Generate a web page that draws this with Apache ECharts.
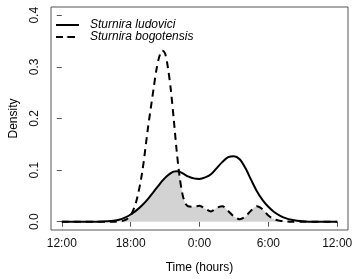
<!DOCTYPE html>
<html>
<head>
<meta charset="utf-8">
<script src="https://cdn.jsdelivr.net/npm/echarts@6/dist/echarts.min.js"></script>
<style>
  html, body { margin: 0; padding: 0; background: #fff; }
  #main { width: 358px; height: 279px; }
</style>
</head>
<body>
<div id="main"></div>
<script>
// hours after 12:00 (0 = 12:00, 12 = 0:00, 24 = 12:00 next day)
const hours = [0, 1, 2, 3, 4, 4.5, 5, 5.5, 6, 6.5, 7, 7.5, 8, 8.25, 8.5, 8.75, 9, 9.25, 9.5, 9.75,
  10, 10.25, 10.5, 10.75, 11, 11.5, 12, 12.5, 13, 13.5, 14, 14.5, 15, 15.5, 16, 16.5, 17, 17.5,
  18, 18.5, 19, 19.5, 20, 21, 22, 23, 24];

const ludovici = [0, 0, 0, 0, 0.001, 0.002, 0.004, 0.008, 0.014, 0.022, 0.032, 0.044, 0.058, 0.065,
  0.072, 0.079, 0.085, 0.090, 0.094, 0.097, 0.098, 0.097, 0.094, 0.091, 0.088, 0.084, 0.083, 0.086,
  0.092, 0.104, 0.116, 0.125, 0.127, 0.121, 0.104, 0.081, 0.059, 0.042, 0.029, 0.019, 0.012, 0.007,
  0.004, 0.001, 0, 0, 0];

const bogotensis = [0, 0, 0, 0, 0, 0, 0.001, 0.003, 0.012, 0.040, 0.095, 0.180, 0.258, 0.295,
  0.320, 0.332, 0.326, 0.298, 0.256, 0.200, 0.140, 0.090, 0.055, 0.036, 0.030, 0.029, 0.031, 0.025,
  0.020, 0.027, 0.030, 0.021, 0.010, 0.005, 0.010, 0.022, 0.030, 0.024, 0.012, 0.005, 0.002, 0.001,
  0, 0, 0, 0, 0];

const xTicks = [0, 6, 12, 18, 24];
const xTickLabels = ['12:00', '18:00', '0:00', '6:00', '12:00'];
const yTicks = [0, 0.1, 0.2, 0.3, 0.4];
const yTickLabels = ['0.0', '0.1', '0.2', '0.3', '0.4'];

// overlap of the two densities (shaded)
const overlap = hours.map((h, i) => [h, Math.min(ludovici[i], bogotensis[i])]);

const chart = echarts.init(document.getElementById('main'));
const font = 'Liberation Sans, Arial, sans-serif';
chart.setOption({
  animation: false,
  backgroundColor: '#fff',
  textStyle: {fontFamily: font},
  grid: {
    left: 44,
    top: 7,
    right: 10,
    bottom: 44,
    show: true,
    borderColor: '#555',
    borderWidth: 1,
  },
  legend: {
    orient: 'vertical',
    left: 55,
    top: 19,
    padding: 0,
    itemWidth: 23,
    itemHeight: 2,
    itemGap: 0,
    data: ['Sturnira ludovici', 'Sturnira bogotensis'],
    textStyle: {fontFamily: font, fontSize: 12, fontStyle: 'italic', color: '#000', lineHeight: 12, padding: [0, 0, 0, 6]},
  },
  xAxis: {
    type: 'value',
    min: -0.94,
    max: 24.94,
    name: 'Time (hours)',
    nameLocation: 'middle',
    nameGap: 32,
    nameTextStyle: {fontSize: 12, color: '#000', fontFamily: font},
    axisLine: {show: false},
    splitLine: {show: false},
    axisTick: {show: true, length: 5, customValues: xTicks, lineStyle: {color: '#555'}},
    axisLabel: {
      customValues: xTicks,
      margin: 8,
      fontSize: 12,
      color: '#111',
      formatter: v => xTickLabels[xTicks.indexOf(v)],
    },
  },
  yAxis: {
    type: 'value',
    min: -0.016,
    max: 0.416,
    name: 'Density',
    nameLocation: 'middle',
    nameGap: 31,
    nameTextStyle: {fontSize: 12, color: '#000', fontFamily: font},
    axisLine: {show: false},
    splitLine: {show: false},
    axisTick: {show: true, length: 5, customValues: yTicks, lineStyle: {color: '#555'}},
    axisLabel: {
      customValues: yTicks,
      rotate: 90,
      align: 'center',
      verticalAlign: 'bottom',
      margin: 10,
      fontSize: 12,
      color: '#111',
      formatter: v => yTickLabels[yTicks.indexOf(v)],
    },
  },
  series: [
    {
      name: 'overlap',
      type: 'line',
      data: overlap,
      smooth: 0.3,
      symbol: 'none',
      lineStyle: {width: 0},
      areaStyle: {color: '#d3d3d3', opacity: 1},
      z: 1,
    },
    {
      name: 'Sturnira ludovici',
      type: 'line',
      data: hours.map((h, i) => [h, ludovici[i]]),
      smooth: 0.3,
      symbol: 'none',
      lineStyle: {color: '#000', width: 2},
      itemStyle: {color: '#000'},
      z: 3,
    },
    {
      name: 'Sturnira bogotensis',
      type: 'line',
      data: hours.map((h, i) => [h, bogotensis[i]]),
      smooth: 0.3,
      symbol: 'none',
      lineStyle: {color: '#000', width: 2, type: [7, 5]},
      itemStyle: {color: '#000'},
      z: 3,
    },
  ],
});
</script>
</body>
</html>
